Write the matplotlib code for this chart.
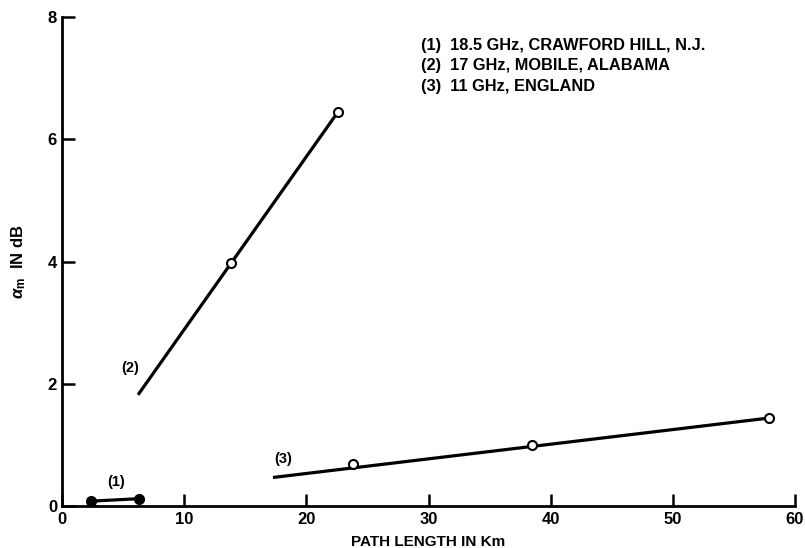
import matplotlib.pyplot as plt

# Datos (longitud del trayecto en km, atenuación en dB)
x1 = [2.4, 6.3]
y1 = [0.08, 0.12]

x2_pts = [13.8, 22.6]
y2_pts = [3.97, 6.45]
x2_fit = [6.3, 22.6]
y2_fit = [1.84, 6.45]

x3_pts = [23.8, 38.5, 57.9]
y3_pts = [0.69, 1.0, 1.44]
x3_fit = [17.4, 57.9]
y3_fit = [0.47, 1.44]

leyenda = ['(1)  18.5 GHz, CRAWFORD HILL, N.J.',
           '(2)  17 GHz, MOBILE, ALABAMA',
           '(3)  11 GHz, ENGLAND']

plt.rcParams['font.family'] = ['Liberation Sans', 'DejaVu Sans']
plt.rcParams['font.weight'] = 'bold'
plt.rcParams['axes.labelweight'] = 'bold'
plt.rcParams['mathtext.fontset'] = 'custom'
plt.rcParams['mathtext.rm'] = 'Liberation Sans:bold'
plt.rcParams['mathtext.it'] = 'Liberation Sans:italic:bold'

fig = plt.figure(figsize=(8.05, 5.48), dpi=100)
ax = fig.add_axes([0.077, 0.0766, 0.9106, 0.8924])

# Curvas
ax.plot(x1, y1, color='k', linewidth=2.3, marker='o', markersize=7,
        markerfacecolor='k', clip_on=False, zorder=3)
ax.plot(x2_fit, y2_fit, color='k', linewidth=2.3)
ax.plot(x2_pts, y2_pts, linestyle='none', marker='o', markersize=6.5,
        markerfacecolor='white', markeredgecolor='k', markeredgewidth=1.5, zorder=3)
ax.plot(x3_fit, y3_fit, color='k', linewidth=2.3)
ax.plot(x3_pts, y3_pts, linestyle='none', marker='o', markersize=6.5,
        markerfacecolor='white', markeredgecolor='k', markeredgewidth=1.5, zorder=3)

# Etiquetas de curvas
ax.text(4.4, 0.39, '(1)', fontsize=10.5, ha='center', va='center')
ax.text(5.6, 2.25, '(2)', fontsize=10.5, ha='center', va='center')
ax.text(18.1, 0.77, '(3)', fontsize=10.5, ha='center', va='center')

# Leyenda como texto
for i, linea in enumerate(leyenda):
    ax.text(29.4, 7.54 - i * 0.335, linea, fontsize=11.8, ha='left', va='center')

# Ejes
ax.set_xlim(0, 60)
ax.set_ylim(0, 8)
ax.set_xticks([0, 10, 20, 30, 40, 50, 60])
ax.set_yticks([0, 2, 4, 6, 8])
ax.spines['top'].set_visible(False)
ax.spines['right'].set_visible(False)
for s in ('left', 'bottom'):
    ax.spines[s].set_linewidth(2)
ax.tick_params(direction='in', length=9, width=1.8, labelsize=12)
ax.tick_params(axis='x', pad=4)

ax.set_xlabel('PATH LENGTH IN Km', fontsize=11, labelpad=6)
ax.set_ylabel(r'$\alpha_{\mathrm{m}}$  IN dB', fontsize=12, labelpad=14)

fig.savefig('out.png', dpi=100)
